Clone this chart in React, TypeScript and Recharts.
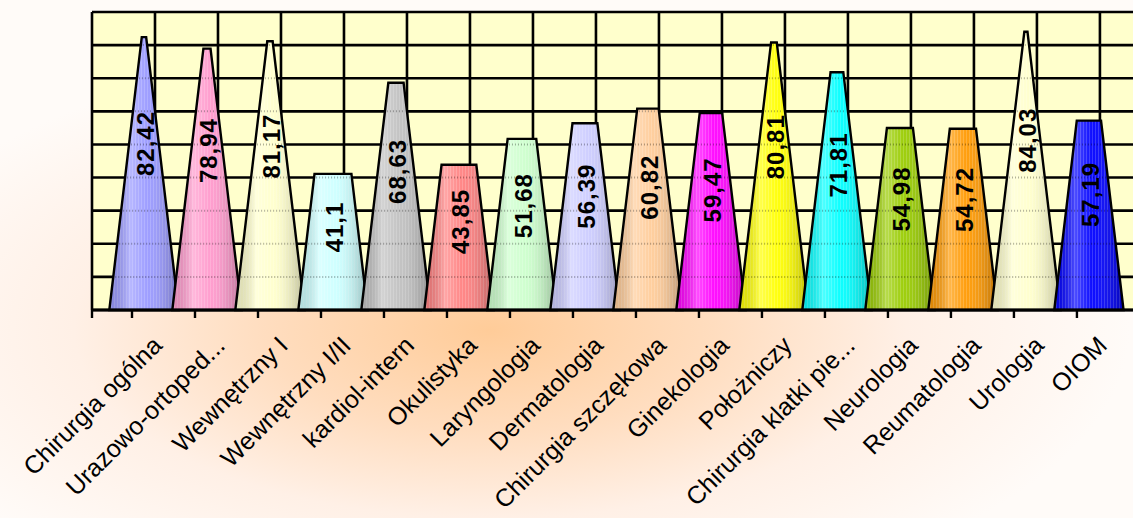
import React from 'react';
import { BarChart, Bar, XAxis, YAxis, CartesianGrid } from 'recharts';

const categories = [
  'Chirurgia ogólna',
  'Urazowo-ortoped...',
  'Wewnętrzny I',
  'Wewnętrzny I/II',
  'kardiol-intern',
  'Okulistyka',
  'Laryngologia',
  'Dermatologia',
  'Chirurgia szczękowa',
  'Ginekologia',
  'Położniczy',
  'Chirurgia klatki pie...',
  'Neurologia',
  'Reumatologia',
  'Urologia',
  'OIOM',
];
const values = [82.42, 78.94, 81.17, 41.1, 68.63, 43.85, 51.68, 56.39, 60.82, 59.47, 80.81, 71.81, 54.98, 54.72, 84.03, 57.19];
const barColors = [
  '#9999FF', '#FF99CC', '#FFFFCC', '#CCFFFF', '#C0C0C0', '#FF8080', '#CCFFCC', '#CCCCFF',
  '#FFCC99', '#FF00FF', '#FFFF00', '#00FFFF', '#99CC00', '#FF9900', '#FFFFCC', '#0000FF',
];
const yTicks = [0, 10, 20, 30, 40, 50, 60, 70, 80, 90];

const TICK_SHIFT = -0.19;
const GRID_SHIFT = 0.175;
const X_DOMAIN: [number, number] = [-0.825, 15.7];
const CONE_APEX = 88;
const FONT = "Arial, 'Liberation Sans', sans-serif";

const rows = categories.map((name, i) => ({ idx: i, name, value: values[i] }));
const tickVals = [X_DOMAIN[0], ...categories.map((_, i) => i + TICK_SHIFT)];
const gridX = [X_DOMAIN[0], ...categories.map((_, i) => i + GRID_SHIFT)];

const fmt = (v: number) => String(v).replace('.', ',');

function Cone(props: any) {
  const { x, y, width, height, index, payload } = props;
  const value = payload.value;
  if (!value || height <= 0) return null;
  const base = y + height;
  const ppu = height / value;
  const apexY = base - CONE_APEX * ppu;
  const cx = x + width / 2;
  const half = width * 0.55;
  const halfAt = (py: number) => (half * (py - apexY)) / (base - apexY);
  const th = halfAt(y);
  const pts = `${cx - half},${base} ${cx - th},${y} ${cx + th},${y} ${cx + half},${base}`;
  const inner = yTicks
    .filter((t) => t > 0)
    .map((t) => base - t * ppu)
    .filter((py) => py > y + 2 && py < base - 2);
  const labelY = y + height * 0.39;
  const labelX = cx + 2;
  return (
    <g>
      <polygon points={pts} fill={barColors[index]} />
      <polygon points={pts} fill="url(#coneStripes)" />
      <polygon points={pts} fill="url(#coneShade)" />
      {inner.map((py, k) => {
        const h = halfAt(py);
        return (
          <line
            key={k}
            x1={cx - h + 2}
            x2={cx + h - 2}
            y1={py}
            y2={py}
            stroke="#000"
            strokeOpacity={0.3}
            strokeWidth={2}
            strokeDasharray="1 2"
          />
        );
      })}
      <polygon points={pts} fill="none" stroke="#000" strokeWidth={2.4} strokeLinejoin="miter" />
      <text
        x={labelX}
        y={labelY}
        transform={`rotate(-90, ${labelX}, ${labelY})`}
        textAnchor="middle"
        dominantBaseline="central"
        fontSize={24}
        fontWeight="bold"
        letterSpacing={1}
        fontFamily={FONT}
        fill="#000"
      >
        {fmt(value)}
      </text>
    </g>
  );
}

function CatTick(props: any) {
  const { x, y, payload } = props;
  const v = payload.value;
  const idx = Math.round(v - TICK_SHIFT);
  if (idx < 0 || idx >= categories.length || Math.abs(v - (idx + TICK_SHIFT)) > 1e-6) return null;
  const ax = x + 31.5;
  const ay = y + 29;
  return (
    <text
      x={0}
      y={0}
      transform={`translate(${ax},${ay}) rotate(-45)`}
      textAnchor="end"
      fontSize={25}
      fontFamily={FONT}
      fill="#000"
    >
      {categories[idx]}
    </text>
  );
}

export default function App() {
  return (
    <div
      style={{
        position: 'absolute',
        left: 0,
        top: 0,
        width: 1133,
        height: 518,
        overflow: 'hidden',
        background:
          'radial-gradient(ellipse 640px 290px at 490px 330px, #FFCC99 0%, #FFDDBF 35%, #FFF0E6 65%, #FFFBF8 100%)',
      }}
    >
      <BarChart
        width={1133}
        height={518}
        data={rows}
        margin={{ top: 12, right: 0, left: 92, bottom: 178 }}
        barCategoryGap={0}
      >
        <defs>
          <linearGradient id="coneShade" x1="0" y1="0" x2="1" y2="0">
            <stop offset="0" stopColor="#000" stopOpacity={0.12} />
            <stop offset="0.3" stopColor="#fff" stopOpacity={0.3} />
            <stop offset="0.55" stopColor="#fff" stopOpacity={0.05} />
            <stop offset="1" stopColor="#000" stopOpacity={0.28} />
          </linearGradient>
          <pattern id="coneStripes" width={3} height={10} patternUnits="userSpaceOnUse">
            <rect x={0} y={0} width={1} height={10} fill="#fff" fillOpacity={0.18} />
          </pattern>
        </defs>
        <CartesianGrid
          fill="#FFFFCC"
          fillOpacity={1}
          stroke="#000"
          strokeWidth={2.6}
          horizontalValues={yTicks}
          verticalValues={gridX}
        />
        <XAxis
          dataKey="idx"
          type="number"
          domain={X_DOMAIN}
          allowDataOverflow
          ticks={tickVals}
          interval={0}
          tick={<CatTick />}
          tickLine={{ stroke: '#000', strokeWidth: 2.4 }}
          tickSize={8}
          tickMargin={0}
          axisLine={{ stroke: '#000', strokeWidth: 3 }}
          height={30}
        />
        <YAxis type="number" domain={[0, 90]} ticks={yTicks} hide />
        <Bar dataKey="value" shape={<Cone />} isAnimationActive={false} />
      </BarChart>
    </div>
  );
}
